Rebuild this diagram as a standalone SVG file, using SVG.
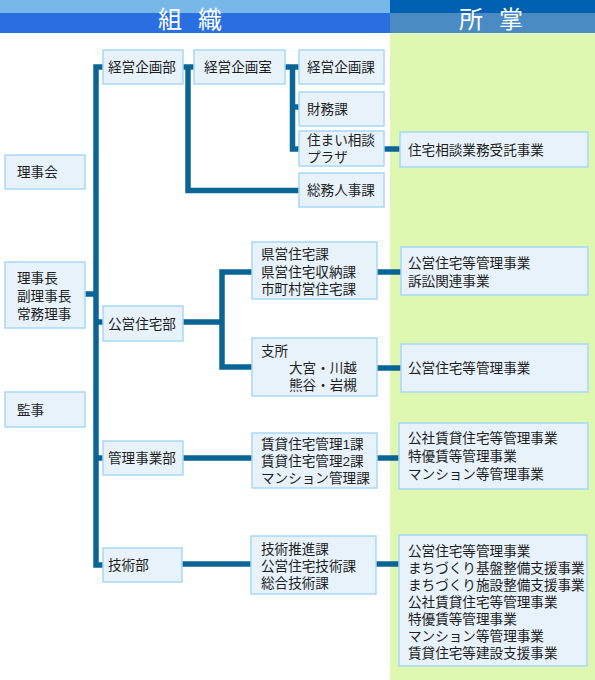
<svg xmlns="http://www.w3.org/2000/svg" width="595" height="680" viewBox="0 0 595 680">
<style>
.b{fill:#e7f2fa;stroke:#a6d8f8;stroke-width:1.5}
.t{font-family:"Liberation Sans","Noto Sans CJK JP",sans-serif;font-size:13.6px;fill:#1e1e1e}
.h{font-family:"Liberation Sans","Noto Sans CJK JP",sans-serif;font-size:24px;fill:#fff;text-anchor:middle}
.c{fill:none;stroke:#0b6594;stroke-width:5.5;stroke-linejoin:miter}
</style>
<rect x="0" y="0" width="595" height="680" fill="#fff"/>
<g id="header">
<rect x="0" y="0" width="390" height="13" fill="#78b8e9"/>
<rect x="0" y="13" width="390" height="20" fill="#2a6fe2"/>
<rect x="390" y="0" width="205" height="13" fill="#0061b3"/>
<rect x="390" y="13" width="205" height="20" fill="#498bc2"/>
<rect x="390" y="33" width="205" height="647" fill="#def8b1"/>
<text class="h" y="27.5"><tspan x="170">組</tspan><tspan x="210">織</tspan></text>
<text class="h" y="27.5"><tspan x="471">所</tspan><tspan x="511">掌</tspan></text>
</g>
<g id="connectors">
<path class="c" d="M103,67 H96 V565 H103"/>
<path class="c" d="M85,294 H96"/>
<path class="c" d="M96,322 H103"/>
<path class="c" d="M96,458 H103"/>
<path class="c" d="M183,67 H194"/>
<path class="c" d="M188,67 V190.5 H299"/>
<path class="c" d="M285,67 H299"/>
<path class="c" d="M292.5,67 V149 H299"/>
<path class="c" d="M292.5,107 H299"/>
<path class="c" d="M384,149 H400"/>
<path class="c" d="M183,322 H222"/>
<path class="c" d="M252,272 H222 V367 H252"/>
<path class="c" d="M377,272 H401"/>
<path class="c" d="M377,368 H401"/>
<path class="c" d="M183,458 H252"/>
<path class="c" d="M377,458 H399"/>
<path class="c" d="M182,564 H251"/>
<path class="c" d="M376,564 H399"/>
</g>
<g id="rijikai"><rect class="b" x="5" y="155" width="80" height="34"/><text class="t" x="17" y="177">理事会</text></g>
<g id="rijicho"><rect class="b" x="5" y="262" width="80" height="66"/><text class="t" y="283"><tspan x="17">理事長</tspan><tspan x="17" dy="18">副理事長</tspan><tspan x="17" dy="18">常務理事</tspan></text></g>
<g id="kanji"><rect class="b" x="5" y="392" width="80" height="35"/><text class="t" x="17" y="414.5">監事</text></g>
<g id="keiei-bu"><rect class="b" x="103" y="50" width="80" height="34"/><text class="t" x="108" y="72">経営企画部</text></g>
<g id="koei-bu"><rect class="b" x="103" y="306" width="80" height="35"/><text class="t" x="108" y="328.5">公営住宅部</text></g>
<g id="kanri-bu"><rect class="b" x="103" y="441" width="80" height="34"/><text class="t" x="108" y="463">管理事業部</text></g>
<g id="gijutsu-bu"><rect class="b" x="103" y="548" width="79" height="34"/><text class="t" x="108" y="570">技術部</text></g>
<g id="keiei-shitsu"><rect class="b" x="194" y="50" width="91" height="34"/><text class="t" x="204" y="72">経営企画室</text></g>
<g id="keiei-ka"><rect class="b" x="299" y="50" width="85" height="34"/><text class="t" x="307" y="72">経営企画課</text></g>
<g id="zaimu"><rect class="b" x="299" y="92" width="85" height="34"/><text class="t" x="307" y="114">財務課</text></g>
<g id="plaza"><rect class="b" x="299" y="131" width="85" height="35"/><text class="t" y="145"><tspan x="307">住まい相談</tspan><tspan x="307" dy="17">プラザ</tspan></text></g>
<g id="somu"><rect class="b" x="299" y="173" width="85" height="34"/><text class="t" x="307" y="195">総務人事課</text></g>
<g id="kenei"><rect class="b" x="252" y="242" width="125" height="57"/><text class="t" y="259"><tspan x="261">県営住宅課</tspan><tspan x="261" dy="17.5">県営住宅収納課</tspan><tspan x="261" dy="17.5">市町村営住宅課</tspan></text></g>
<g id="shisho"><rect class="b" x="252" y="338" width="125" height="58"/><text class="t" y="356"><tspan x="261">支所</tspan><tspan x="289" dy="17">大宮・川越</tspan><tspan x="289" dy="17">熊谷・岩槻</tspan></text></g>
<g id="chintai"><rect class="b" x="252" y="433" width="125" height="55"/><text class="t" y="449"><tspan x="261">賃貸住宅管理1課</tspan><tspan x="261" dy="17">賃貸住宅管理2課</tspan><tspan x="261" dy="17">マンション管理課</tspan></text></g>
<g id="gijutsu-ka"><rect class="b" x="251" y="536" width="125" height="58"/><text class="t" y="554"><tspan x="261">技術推進課</tspan><tspan x="261" dy="17">公営住宅技術課</tspan><tspan x="261" dy="17">総合技術課</tspan></text></g>
<g id="s-sodan"><rect class="b" x="400" y="132" width="188" height="35"/><text class="t" x="408" y="154.5">住宅相談業務受託事業</text></g>
<g id="s-koei1"><rect class="b" x="401" y="247" width="187" height="48"/><text class="t" y="268"><tspan x="408">公営住宅等管理事業</tspan><tspan x="408" dy="17.5">訴訟関連事業</tspan></text></g>
<g id="s-koei2"><rect class="b" x="401" y="344" width="187" height="48"/><text class="t" x="408" y="373">公営住宅等管理事業</text></g>
<g id="s-kosha"><rect class="b" x="399" y="423" width="189" height="66"/><text class="t" y="443"><tspan x="408">公社賃貸住宅等管理事業</tspan><tspan x="408" dy="18">特優賃等管理事業</tspan><tspan x="408" dy="18">マンション等管理事業</tspan></text></g>
<g id="s-gijutsu"><rect class="b" x="399" y="535" width="188" height="131"/><text class="t" y="556"><tspan x="408">公営住宅等管理事業</tspan><tspan x="408" dy="17">まちづくり基盤整備支援事業</tspan><tspan x="408" dy="17">まちづくり施設整備支援事業</tspan><tspan x="408" dy="17">公社賃貸住宅等管理事業</tspan><tspan x="408" dy="17">特優賃等管理事業</tspan><tspan x="408" dy="17">マンション等管理事業</tspan><tspan x="408" dy="17">賃貸住宅等建設支援事業</tspan></text></g>
</svg>
